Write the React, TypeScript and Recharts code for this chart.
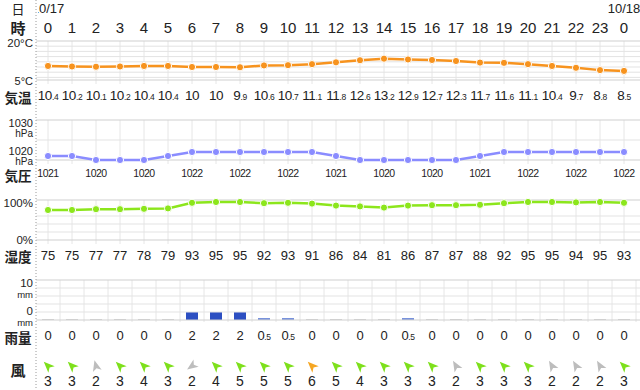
import React from 'react';
import { ComposedChart, Line, Bar, Cell, XAxis, YAxis, ReferenceLine, LabelList } from 'recharts';

// ---------- data ----------
const hourLabels = [0, 1, 2, 3, 4, 5, 6, 7, 8, 9, 10, 11, 12, 13, 14, 15, 16, 17, 18, 19, 20, 21, 22, 23, 0];
const dateLabels = ['10/17', '10/18'];
const dateAtIndex = [0, 24];
const temperature = [10.4, 10.2, 10.1, 10.2, 10.4, 10.4, 10, 10, 9.9, 10.6, 10.7, 11.1, 11.8, 12.6, 13.2, 12.9, 12.7, 12.3, 11.7, 11.6, 11.1, 10.4, 9.7, 8.8, 8.5];
const pressure = [1021, 1021, 1020, 1020, 1020, 1021, 1022, 1022, 1022, 1022, 1022, 1022, 1021, 1020, 1020, 1020, 1020, 1020, 1021, 1022, 1022, 1022, 1022, 1022, 1022];
const humidity = [75, 75, 77, 77, 78, 79, 93, 95, 95, 92, 93, 91, 86, 84, 81, 86, 87, 87, 88, 92, 95, 95, 94, 95, 93];
const rainfall = [0, 0, 0, 0, 0, 0, 2, 2, 2, 0.5, 0.5, 0, 0, 0, 0, 0.5, 0, 0, 0, 0, 0, 0, 0, 0, 0];
const windSpeed = [3, 3, 2, 3, 4, 3, 2, 4, 5, 5, 5, 6, 5, 4, 3, 3, 3, 2, 3, 3, 3, 2, 2, 2, 3];
const windDirection = [315, 315, 345, 315, 315, 315, 235, 315, 315, 315, 315, 315, 315, 315, 315, 315, 315, 330, 315, 315, 315, 330, 330, 330, 315];

const tempGrid = [20, 18, 16, 14, 12, 10, 8, 6, 5];
const presGrid = [1030, 1025, 1020];
const humGrid = [100, 60, 40, 20, 0];
const rainGrid = [10, 8, 6, 4, 2, 0];

// ---------- layout ----------
const W = 640;
const H = 390;
const LEFT = 36;
const COL = 24;
const AXIS_H = 1;
const PLOT_TOP = AXIS_H;
const PLOT_H = H - PLOT_TOP;
const X_MAX = -0.5 + (W - LEFT) / COL;
const FONT = "'Noto Sans CJK JP', 'Noto Sans', sans-serif";
const NUMFONT = "'Liberation Sans', Arial, sans-serif";
const TXT = '#222';

type Panel = { vTop: number; yTop: number; vBot: number; yBot: number };
const panels: Record<string, Panel> = {
  t: { vTop: 20, yTop: 41, vBot: 5, yBot: 80 },
  p: { vTop: 1030, yTop: 120, vBot: 1020, yBot: 160 },
  h: { vTop: 100, yTop: 200, vBot: 0, yBot: 240 },
  r: { vTop: 10, yTop: 280, vBot: 0, yBot: 320 },
};
const pxPerUnit = (p: Panel) => (p.yBot - p.yTop) / (p.vTop - p.vBot);
const domainOf = (p: Panel): [number, number] => {
  const k = pxPerUnit(p);
  const hi = p.vTop + (p.yTop - PLOT_TOP) / k;
  return [hi - PLOT_H / k, hi];
};
const valAt = (p: Panel, px: number) => p.vTop - (px - p.yTop) / pxPerUnit(p);

const vertSpans: Record<string, [number, number]> = { t: [41, 84], p: [120, 164], h: [200, 244], r: [280, 322] };

const data = hourLabels.map((h, i) => ({
  idx: i,
  hour: h,
  temp: temperature[i],
  pres: pressure[i],
  hum: humidity[i],
  rain: rainfall[i],
}));
const idxs = data.map((d) => d.idx);

const C_TEMP = '#f7931e';
const C_PRES = '#8a8cff';
const C_HUM = '#8ce61c';

// ---------- helpers ----------
const getX = (p: any) => (p.viewBox && p.viewBox.x != null ? p.viewBox.x : p.x);

const splitNum = (v: number) => {
  const s = String(v);
  const [a, b] = s.split('.');
  return { a, b };
};

const SmallDec = ({ x, y, v, size, small }: { x: number; y: number; v: number; size: number; small: number }) => {
  const { a, b } = splitNum(v);
  return (
    <text x={x} y={y} textAnchor="middle" fontSize={size} fill={TXT} fontFamily={NUMFONT} letterSpacing={-0.4}>
      <tspan>{a}</tspan>
      {b != null && <tspan fontSize={small}>.{b}</tspan>}
    </text>
  );
};

const TempLabel = (p: any) => <SmallDec x={getX(p)} y={100} v={temperature[p.value]} size={13.5} small={8.5} />;
const RainLabel = (p: any) => <SmallDec x={getX(p)} y={340} v={rainfall[p.value]} size={13} small={8.5} />;
const PresLabel = (p: any) =>
  p.value % 2 === 0 ? (
    <text x={getX(p)} y={177} textAnchor="middle" fontSize={10.5} letterSpacing={-0.5} fill={TXT} fontFamily={NUMFONT}>
      {pressure[p.value]}
    </text>
  ) : null;
const HumLabel = (p: any) => (
  <text x={getX(p)} y={260} textAnchor="middle" fontSize={13} fill={TXT} fontFamily={NUMFONT}>
    {humidity[p.value]}
  </text>
);
const windColor = (s: number) => (s >= 6 ? '#f5a623' : s >= 3 ? '#7ee01c' : '#bdbdbd');
const WindLabel = (p: any) => {
  const x = getX(p);
  const i = p.value;
  const s = windSpeed[i];
  return (
    <g>
      <path
        d="M0,-6 L4.5,5 L0,2.2 L-4.5,5 Z"
        transform={`translate(${x},366) rotate(${windDirection[i]})`}
        fill={windColor(s)}
      />
      <text x={x} y={386} textAnchor="middle" fontSize={14} fill={TXT} fontFamily={NUMFONT}>
        {s}
      </text>
    </g>
  );
};

const rowTitles = [
  { t: '気温', y: 96.5, size: 13.5 },
  { t: '気圧', y: 175, size: 13.5 },
  { t: '湿度', y: 256, size: 13.5 },
  { t: '雨量', y: 337, size: 13.5 },
  { t: '風', y: 369, size: 15 },
];

const HourTick = (p: any) => {
  const { x, payload } = p;
  const i = payload.value;
  const di = dateAtIndex.indexOf(i);
  return (
    <g>
      {i === 0 && (
        <g>
          <defs>
            <clipPath id="dateClip">
              <rect x={38} y={0} width={W - 38} height={H} />
            </clipPath>
          </defs>
          <line x1={LEFT} y1={0} x2={LEFT} y2={H} stroke="#9a9a9a" strokeDasharray="1 2" />
          <text x={18} y={8} textAnchor="middle" dominantBaseline="central" fontSize={13} fill={TXT} fontFamily={FONT}>
            日
          </text>
          <text x={18} y={27.5} textAnchor="middle" dominantBaseline="central" fontSize={15} fontWeight="bold" fill={TXT} fontFamily={FONT}>
            時
          </text>
          {rowTitles.map((r) => (
            <text key={r.t} x={18} y={r.y} textAnchor="middle" dominantBaseline="central" fontSize={r.size} fontWeight="bold" fill={TXT} fontFamily={FONT}>
              {r.t}
            </text>
          ))}
        </g>
      )}
      {di >= 0 && (
        <text x={x} y={13} textAnchor="middle" fontSize={13} fill={TXT} fontFamily={NUMFONT} clipPath="url(#dateClip)">
          {dateLabels[di]}
        </text>
      )}
      <text x={x} y={33} textAnchor="middle" fontSize={15} fill={TXT} fontFamily={NUMFONT}>
        {hourLabels[i]}
      </text>
    </g>
  );
};

type UL = { text: string; dy: number; size: number };
const unitLabel = (lines: UL[]) => (props: any) => {
  const vb = props.viewBox || {};
  return (
    <g>
      {lines.map((l, k) => (
        <text key={k} x={vb.x - 3} y={vb.y + l.dy} textAnchor="end" dominantBaseline="central" fontSize={l.size} fill={TXT} fontFamily={NUMFONT}>
          {l.text}
        </text>
      ))}
    </g>
  );
};

const unitLabels: Record<string, Record<number, UL[]>> = {
  t: { 20: [{ text: '20°C', dy: 2, size: 11.5 }], 5: [{ text: '5°C', dy: 0.5, size: 11 }] },
  p: {
    1030: [{ text: '1030', dy: 3, size: 11 }, { text: 'hPa', dy: 13.5, size: 10 }],
    1020: [{ text: '1020', dy: -9.5, size: 11 }, { text: 'hPa', dy: 1, size: 10 }],
  },
  h: { 100: [{ text: '100%', dy: 3, size: 11.5 }], 0: [{ text: '0%', dy: 0, size: 11.5 }] },
  r: {
    10: [{ text: '10', dy: 2.5, size: 11.5 }, { text: 'mm', dy: 14, size: 9.5 }],
    0: [{ text: '0', dy: -9.5, size: 11.5 }, { text: 'mm', dy: 2, size: 9.5 }],
  },
};

const grids: Record<string, number[]> = { t: tempGrid, p: presGrid, h: humGrid, r: rainGrid };

export default function App() {
  const hLines: React.ReactNode[] = [];
  const vLines: React.ReactNode[] = [];
  Object.keys(grids).forEach((id) => {
    const pan = panels[id];
    const [a, b] = vertSpans[id];
    const xs = id === 'r' ? idxs.map((i) => i + 0.5) : idxs;
    xs.forEach((xv) => {
      vLines.push(
        <ReferenceLine
          key={`v-${id}-${xv}`}
          yAxisId={id}
          segment={[
            { x: xv, y: valAt(pan, a) },
            { x: xv, y: valAt(pan, b) },
          ]}
          stroke="#e6e6e6"
          strokeWidth={1}
        />
      );
    });
    grids[id].forEach((gv) => {
      const ul = unitLabels[id][gv];
      hLines.push(
        <ReferenceLine
          key={`h-${id}-${gv}`}
          yAxisId={id}
          y={gv}
          stroke={ul ? '#cfcfcf' : '#e3e3e3'}
          strokeWidth={1}
          label={ul ? unitLabel(ul) : undefined}
        />
      );
    });
  });

  return (
    <div style={{ position: 'absolute', left: 0, top: 0, width: W, height: H, background: '#fff' }}>
      <ComposedChart width={W} height={H} data={data} margin={{ top: 0, right: 0, bottom: 0, left: LEFT }}>
        <XAxis
          dataKey="idx"
          type="number"
          domain={[-0.5, X_MAX]}
          allowDataOverflow
          orientation="top"
          height={AXIS_H}
          ticks={idxs}
          interval={0}
          tick={HourTick}
          tickLine={false}
          axisLine={false}
        />
        <YAxis yAxisId="t" hide type="number" domain={domainOf(panels.t)} allowDataOverflow />
        <YAxis yAxisId="p" hide type="number" domain={domainOf(panels.p)} allowDataOverflow />
        <YAxis yAxisId="h" hide type="number" domain={domainOf(panels.h)} allowDataOverflow />
        <YAxis yAxisId="r" hide type="number" domain={domainOf(panels.r)} allowDataOverflow />
        {vLines}
        {hLines}
        <Bar yAxisId="r" dataKey="rain" barSize={12} minPointSize={1} isAnimationActive={false}>
          {rainfall.map((v, i) => (
            <Cell key={i} fill={v >= 1 ? '#2c4fc2' : v > 0 ? '#7892dc' : '#d2d2d2'} />
          ))}
        </Bar>
        <Line
          yAxisId="t"
          dataKey="temp"
          stroke={C_TEMP}
          strokeWidth={2.5}
          dot={{ r: 3.6, fill: C_TEMP, stroke: '#fff', strokeWidth: 1 }}
          isAnimationActive={false}
        >
          <LabelList dataKey="idx" content={TempLabel} />
        </Line>
        <Line
          yAxisId="p"
          dataKey="pres"
          stroke={C_PRES}
          strokeWidth={2.5}
          dot={{ r: 3.6, fill: C_PRES, stroke: '#fff', strokeWidth: 1 }}
          isAnimationActive={false}
        >
          <LabelList dataKey="idx" content={PresLabel} />
        </Line>
        <Line
          yAxisId="h"
          dataKey="hum"
          stroke={C_HUM}
          strokeWidth={2.5}
          dot={{ r: 3.6, fill: C_HUM, stroke: '#fff', strokeWidth: 1 }}
          isAnimationActive={false}
        >
          <LabelList dataKey="idx" content={HumLabel} />
          <LabelList dataKey="idx" content={RainLabel} />
          <LabelList dataKey="idx" content={WindLabel} />
        </Line>
      </ComposedChart>
    </div>
  );
}
